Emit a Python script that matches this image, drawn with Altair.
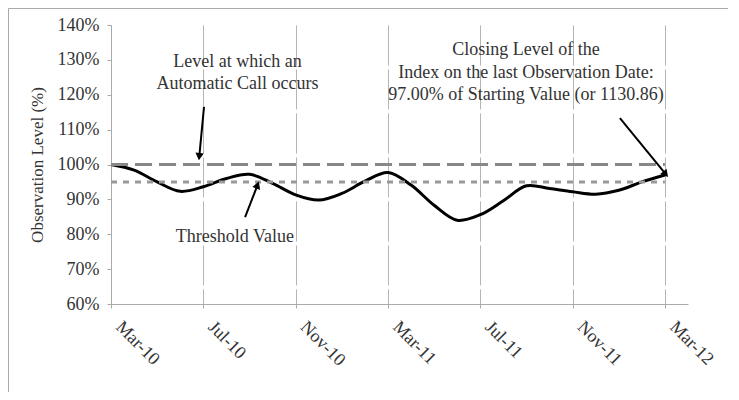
import altair as alt
import pandas as pd

# ---- data ----
months = list(range(25))  # 0 = Mar-10 ... 24 = Mar-12
obs_level = [100, 98.4, 95.0, 92.3, 93.6, 96.0, 97.2, 94.6, 91.3, 89.8, 91.7, 95.2,
             97.7, 94.1, 88.3, 84.0, 85.6, 89.6, 93.9, 93.1, 92.2, 91.5, 92.6, 95.0, 97.0]
tick_months = [0, 4, 8, 12, 16, 20, 24]
tick_labels = ["Mar-10", "Jul-10", "Nov-10", "Mar-11", "Jul-11", "Nov-11", "Mar-12"]
y_ticks = [60, 70, 80, 90, 100, 110, 120, 130, 140]
autocall_level = [100]
threshold_level = [95]

ann_text = [
    ["Level at which an", "Automatic Call occurs"],
    ["Closing Level of the", "Index on the last Observation Date:", "97.00% of Starting Value (or 1130.86)"],
    ["Threshold Value"],
]
ann_month = [5.48, 17.98, 5.37]
ann_value = [129.4, 132.7, 79.2]   # centre of the first line of each note

arrow_tail_month = [4.03, 5.81, 22.05]
arrow_tail_value = [116.5, 84.9, 113.3]
arrow_head_month = [3.83, 6.33, 24.0]
arrow_head_value = [102.6, 93.8, 97.5]
arrow_angle = [186, 21, 140]

FONT = "Liberation Serif"
GRID = "#b4b4b4"

df_line = pd.DataFrame({"m": months, "v": obs_level})
df_ref = pd.DataFrame({"m0": [0, 0], "m1": [24, 24],
                       "v": autocall_level + threshold_level,
                       "kind": ["call", "thr"]})
df_ann = pd.DataFrame({"m": ann_month, "v": ann_value, "t": ann_text})
df_arr = pd.DataFrame({"m0": arrow_tail_month, "v0": arrow_tail_value,
                       "m1": arrow_head_month, "v1": arrow_head_value,
                       "a": arrow_angle})

label_expr = "[" + ",".join(f"'{t}'" for t in tick_labels) + "][datum.value/4]"

xscale = alt.Scale(domain=[0, 25], nice=False, zero=False)
yscale = alt.Scale(domain=[60, 140], nice=False, zero=False)

x_axis = alt.Axis(values=tick_months, labelExpr=label_expr, title=None,
                  labelAngle=45, labelAlign="left", labelBaseline="middle",
                  labelPadding=16, labelOffset=7, labelOverlap=False,
                  labelFont=FONT, labelFontSize=18, labelColor="#333",
                  grid=True, gridColor=GRID, gridDash=[40, 4], gridWidth=1,
                  domainColor="#aaa", tickColor="#aaa", tickSize=4)
y_axis = alt.Axis(values=y_ticks, labelExpr="datum.value + '%'",
                  title="Observation Level (%)", titleFont=FONT, titleFontSize=17,
                  titleFontWeight="normal", titleColor="#333", titlePadding=11,
                  labelFont=FONT, labelFontSize=18, labelColor="#333", labelPadding=8,
                  labelOverlap=False,
                  grid=False, domainColor="#aaa", tickColor="#aaa", tickSize=4)

X = lambda f: alt.X(f, scale=xscale, axis=x_axis)
Y = lambda f: alt.Y(f, scale=yscale, axis=y_axis)

frame = alt.Chart(pd.DataFrame({"a": [0]})).mark_rect(
    fill=None, stroke="#aaa", strokeWidth=1
).encode(x=alt.value(-102.5), x2=alt.value(700), y=alt.value(-16.5), y2=alt.value(400))

ref_call = alt.Chart(df_ref[df_ref.kind == "call"]).mark_rule(
    color="#888", strokeWidth=3, strokeDash=[17, 7]
).encode(x=X("m0:Q"), x2="m1:Q", y=Y("v:Q"))
ref_thr = alt.Chart(df_ref[df_ref.kind == "thr"]).mark_rule(
    color="#999", strokeWidth=3, strokeDash=[6, 6]
).encode(x=X("m0:Q"), x2="m1:Q", y=Y("v:Q"))

line = alt.Chart(df_line).mark_line(
    color="#000", strokeWidth=3, interpolate="catmull-rom"
).encode(x=X("m:Q"), y=Y("v:Q"))

arrows = alt.Chart(df_arr).mark_rule(color="#000", strokeWidth=2).encode(
    x=X("m0:Q"), y=Y("v0:Q"), x2="m1:Q", y2="v1:Q")
heads = alt.Chart(df_arr).mark_point(
    shape="triangle", filled=True, color="#000", opacity=1, size=70
).encode(x=X("m1:Q"), y=Y("v1:Q"), angle=alt.Angle("a:Q", scale=None))

texts = alt.Chart(df_ann).mark_text(
    font=FONT, fontSize=18, color="#333", align="center", baseline="middle",
    lineHeight=22.5
).encode(x=X("m:Q"), y=Y("v:Q"), text="t")

chart = alt.layer(line, frame, ref_call, ref_thr, arrows, heads, texts).properties(
    width=577, height=279,
    padding={"left": 103, "top": 17, "right": 40, "bottom": 88},
    autosize=alt.AutoSizeParams(type="none"),
    background="white",
).configure_view(stroke=None)

chart.save("out.html", embed_options={"renderer": "svg", "actions": False})
